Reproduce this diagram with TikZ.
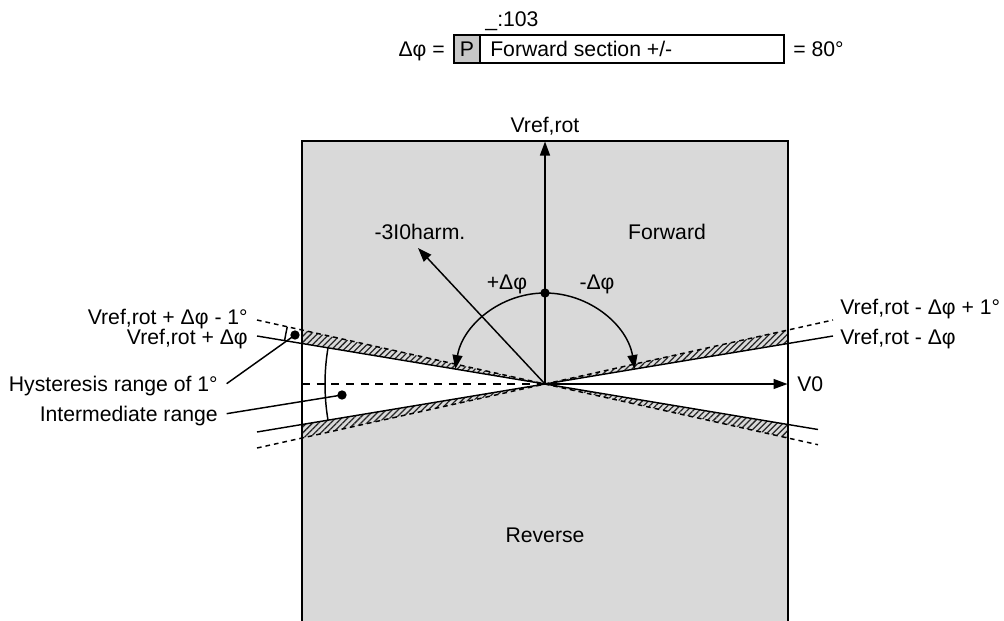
\documentclass[tikz,border=0pt]{standalone}
\usepackage{fontspec}
\setmainfont{Liberation Sans}
\usetikzlibrary{arrows.meta,patterns.meta}
\begin{document}
\begin{tikzpicture}[x=0.75pt,y=-0.75pt,
  lbl/.style={inner sep=0pt,font=\fontsize{15.9}{18}\selectfont},
  ln/.style={line width=1.1pt},
  arr/.style={ln,-{Triangle[length=10.5pt,width=7.5pt]}},
  hatch/.style={pattern={Lines[angle=45,distance=3.2pt,line width=0.95pt]},pattern color=black!85},
  dot/.style={circle,fill=black,inner sep=0pt,minimum size=7pt},
  shortdash/.style={ln,dash pattern=on 3.5pt off 3pt},
  longdash/.style={ln,dash pattern=on 6pt off 5pt}]
\clip (0,0) rectangle (1004,621);
\coordinate (O) at (545,384);
% background box
\fill[black!15] (302,141) rectangle (788,640);
% white bow-tie between solid lines
\fill[white] (302,343.5) -- (O) -- (788,343.5) -- (788,424.5) -- (O) -- (302,424.5) -- cycle;
% hatched hysteresis wedges
\fill[hatch] (302,330) -- (O) -- (302,343.5) -- cycle;
\fill[hatch] (788,330) -- (O) -- (788,343.5) -- cycle;
\fill[hatch] (302,438) -- (O) -- (302,424.5) -- cycle;
\fill[hatch] (788,438) -- (O) -- (788,424.5) -- cycle;
% boundary lines
\coordinate (ULs) at (257,336);
\coordinate (ULd) at (257,320);
\coordinate (URs) at (833,336);
\coordinate (URd) at (833,320);
\coordinate (LLs) at (257,432);
\coordinate (LLd) at (257,448);
\coordinate (LRs) at (818,429.5);
\coordinate (LRd) at (818,444.7);
\draw[ln] (ULs) -- (O) -- (URs);
\draw[ln] (LLs) -- (O) -- (LRs);
\draw[shortdash] (ULd) -- (O) -- (URd);
\draw[shortdash] (LLd) -- (O) -- (LRd);
\coordinate (HL) at (302,384);
\draw[longdash] (HL) -- (O);
% box outline
\draw[ln] (302,640) -- (302,141) -- (788,141) -- (788,640);
% axes
\coordinate (Vt) at (545,141.5);
\coordinate (V0t) at (787.5,384);
\coordinate (I0t) at (418,248);
\draw[arr] (O) -- (Vt);
\draw[arr] (O) -- (V0t);
\draw[arr] (O) -- (I0t);
% angle arcs
\node[dot] (T) at (545,293) {};
\draw[arr] (T.center) arc[start angle=-90,end angle=-170.54,radius=91];
\draw[arr] (T.center) arc[start angle=-90,end angle=-9.46,radius=91];
% hysteresis small arc and intermediate arc
\draw[ln] (O) ++(-167.47:264) arc[start angle=-167.47,end angle=-170.54,radius=264];
\draw[ln] (O) ++(170.54:220) arc[start angle=170.54,end angle=189.46,radius=220];
% dots and leaders
\node[dot] (hd) at (295,335) {};
\node[dot] (id) at (342,395) {};
\node[lbl,anchor=base east] (hyst) at (218,391) {Hysteresis range of 1°};
\node[lbl,anchor=base east] (inter) at (218,421) {Intermediate range};
\draw[ln] ([xshift=6.5pt,yshift=5.5pt]hyst.base east) -- (hd.center);
\draw[ln] ([xshift=6.5pt,yshift=5.5pt]inter.base east) -- (id.center);
% labels
\node[lbl,anchor=base] (vref) at (545,132) {Vref,rot};
\node[lbl,anchor=base west] (v0) at (797,391.5) {V0};
\node[lbl,anchor=base] (i0) at (420,239.5) {-3I0harm.};
\node[lbl,anchor=base] (fwd) at (667,239.5) {Forward};
\node[lbl,anchor=base] (rev) at (545,542.5) {Reverse};
\node[lbl,anchor=base] (pd) at (507,289.5) {+Δφ};
\node[lbl,anchor=base] (md) at (597,289.5) {-Δφ};
\node[lbl,anchor=base east] at (248,324) {Vref,rot + Δφ - 1°};
\node[lbl,anchor=base east] at (248,344.5) {Vref,rot + Δφ};
\node[lbl,anchor=base west] at (840,314) {Vref,rot - Δφ + 1°};
\node[lbl,anchor=base west] at (840,344.5) {Vref,rot - Δφ};
% parameter line
\node[lbl,anchor=base] (addr) at (512,26.5) {\_:103};
\node[lbl,anchor=base east] (dphi) at (445,56) {Δφ =};
\draw[ln,fill=black!22] (454,35) rectangle (480,63);
\draw[ln,fill=white] (480,35) rectangle (784,63);
\node[lbl,anchor=base] (P) at (467,56) {P};
\node[lbl,anchor=base west] (fs) at (490,56) {Forward section +/-};
\node[lbl,anchor=base west] (val) at (793,56) {= 80°};
\end{tikzpicture}
\end{document}
